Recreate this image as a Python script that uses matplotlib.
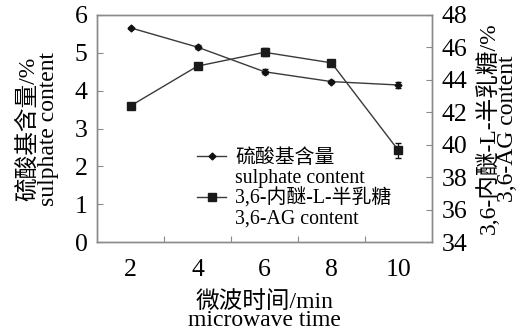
import matplotlib
matplotlib.use("Agg")
import matplotlib.pyplot as plt
from matplotlib.lines import Line2D

plt.rcParams['font.family'] = ['Liberation Serif', 'Noto Sans CJK SC']

times = ['2', '4', '6', '8', '10']
sulphate = [5.66, 5.15, 4.50, 4.24, 4.15]
sulphate_err = [0.03, 0.06, 0.07, 0.03, 0.08]
ag = [42.4, 44.85, 45.7, 45.05, 39.65]
ag_err = [0.1, 0.1, 0.25, 0.15, 0.45]

fig = plt.figure(figsize=(5.28, 3.33), dpi=100)
ax = fig.add_axes([0.184, 0.273, 0.634, 0.682])
ax2 = ax.twinx()

pos = list(range(1, len(times) + 1))
line_c = '#3a3a3a'
spine_c = '#8a8a8a'

ax.errorbar(pos, sulphate, yerr=sulphate_err, color=line_c, lw=1.0,
            marker='D', markersize=3.5, mfc='#111111', mec='#111111',
            ecolor='#111111', elinewidth=0.9, capsize=2.5, zorder=3)
ax2.errorbar(pos, ag, yerr=ag_err, color=line_c, lw=1.0,
             marker='s', markersize=5.5, mfc='#1a1a1a', mec='#1a1a1a',
             ecolor='#111111', elinewidth=0.9, capsize=2.5, zorder=3)

ax.set_xlim(0.5, len(times) + 0.5)
ax.set_ylim(0, 6)
ax2.set_ylim(34, 48)
ax.set_yticks(range(0, 7))
ax2.set_yticks(range(34, 49, 2))

ax.set_xticks([p + 0.5 for p in pos[:-1]])
ax.set_xticklabels([])
ax.set_xticks(pos, minor=True)
ax.set_xticklabels(times, minor=True)
ax.tick_params(axis='x', which='minor', length=0, pad=12, labelsize=18.5)
ax.tick_params(axis='x', which='major', direction='in', length=4, color=spine_c)
ax.tick_params(axis='y', direction='in', length=4, color=spine_c, labelsize=18.5, pad=7)
ax2.tick_params(axis='y', direction='in', length=4, color=spine_c, labelsize=18.5, pad=7)

for a in (ax, ax2):
    for s in a.spines.values():
        s.set_color(spine_c)
        s.set_linewidth(1.0)

ax.set_ylabel('硫酸基含量/%\nsulphate content', fontsize=17, linespacing=0.95, labelpad=11)
ax2.set_ylabel('3,6-内醚-L-半乳糖/%\n3,6-AG content', fontsize=17, linespacing=0.8,
               rotation=90, labelpad=6)
ax.set_xlabel('微波时间/min\nmicrowave time', fontsize=17, linespacing=0.86, labelpad=7)

h1 = Line2D([], [], color=line_c, lw=1.0, marker='D', markersize=3.5,
            mfc='#111111', mec='#111111')
h2 = Line2D([], [], color=line_c, lw=1.0, marker='s', markersize=5.5,
            mfc='#1a1a1a', mec='#1a1a1a')
blank = Line2D([], [], color='none', lw=0)
leg = ax.legend([h1, blank, h2, blank],
                ['硫酸基含量', 'sulphate content', '3,6-内醚-L-半乳糖', '3,6-AG content'],
                loc='upper left', bbox_to_anchor=(0.27, 0.455), frameon=False,
                fontsize=14.3, handlelength=1.45, handletextpad=0.45,
                labelspacing=0.05, borderpad=0)

fig.savefig('out.png', dpi=100)
